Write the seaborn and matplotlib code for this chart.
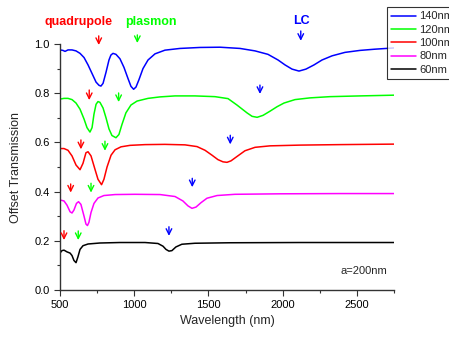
import pandas as pd
import numpy as np
import seaborn as sns
from matplotlib import pyplot as plt
from matplotlib.ticker import MultipleLocator, FormatStrFormatter

# wavelength (nm) / offset transmission
wl_140 = [500, 520, 534, 554, 581, 608, 635, 662, 689, 716, 743, 763, 776, 790, 810, 830, 843, 857, 877, 904,
          931, 958, 978, 996, 1012, 1032, 1059, 1093, 1140, 1207, 1308, 1443, 1578, 1713, 1814, 1901, 1969, 2016,
          2063, 2110, 2157, 2211, 2265, 2333, 2420, 2521, 2622, 2750]
tr_140 = [0.976, 0.974, 0.970, 0.976, 0.976, 0.972, 0.962, 0.945, 0.915, 0.880, 0.845, 0.832, 0.829, 0.840, 0.885,
          0.935, 0.955, 0.962, 0.958, 0.940, 0.905, 0.860, 0.828, 0.816, 0.825, 0.855, 0.900, 0.935, 0.960, 0.975,
          0.982, 0.986, 0.987, 0.982, 0.972, 0.958, 0.935, 0.915, 0.898, 0.890, 0.898, 0.915, 0.935, 0.952, 0.966,
          0.974, 0.979, 0.984]

wl_120 = [500, 527, 554, 581, 608, 635, 662, 682, 702, 716, 729, 743, 756, 769, 790, 810, 830, 850, 877, 897,
          917, 944, 978, 1019, 1093, 1174, 1275, 1409, 1544, 1632, 1692, 1760, 1794, 1828, 1868, 1915, 1962, 2009,
          2083, 2184, 2319, 2521, 2750]
tr_120 = [0.776, 0.779, 0.779, 0.774, 0.760, 0.735, 0.695, 0.660, 0.642, 0.660, 0.715, 0.755, 0.766, 0.763, 0.740,
          0.700, 0.655, 0.628, 0.619, 0.632, 0.672, 0.720, 0.752, 0.768, 0.779, 0.785, 0.789, 0.789, 0.786, 0.778,
          0.752, 0.720, 0.706, 0.702, 0.710, 0.727, 0.745, 0.760, 0.774, 0.781, 0.786, 0.789, 0.792]

wl_100 = [500, 527, 554, 581, 608, 635, 655, 675, 689, 709, 736, 756, 780, 796, 817, 844, 871, 911, 972, 1073,
          1207, 1342, 1423, 1477, 1524, 1564, 1598, 1625, 1652, 1693, 1746, 1814, 1915, 2117, 2386, 2750]
tr_100 = [0.575, 0.575, 0.568, 0.545, 0.508, 0.489, 0.515, 0.558, 0.562, 0.545, 0.490, 0.450, 0.428, 0.450, 0.500,
          0.548, 0.570, 0.582, 0.588, 0.591, 0.592, 0.590, 0.583, 0.568, 0.548, 0.530, 0.521, 0.519, 0.525, 0.543,
          0.566, 0.580, 0.586, 0.589, 0.591, 0.593]

wl_80 = [500, 527, 547, 568, 581, 594, 611, 625, 641, 662, 675, 685, 695, 709, 729, 756, 796, 871, 1005, 1174,
         1275, 1328, 1362, 1389, 1416, 1450, 1490, 1558, 1679, 1982, 2386, 2750]
tr_80 = [0.366, 0.362, 0.345, 0.318, 0.313, 0.325, 0.352, 0.359, 0.348, 0.300, 0.268, 0.262, 0.275, 0.315, 0.352,
         0.374, 0.384, 0.388, 0.389, 0.388, 0.380, 0.362, 0.342, 0.332, 0.337, 0.355, 0.373, 0.384, 0.389, 0.391,
         0.392, 0.392]

wl_60 = [500, 513, 527, 547, 568, 581, 594, 608, 621, 635, 655, 689, 769, 904, 1073, 1160, 1194, 1214, 1234, 1254,
         1281, 1321, 1409, 1645, 2117, 2750]
tr_60 = [0.150, 0.160, 0.162, 0.155, 0.150, 0.140, 0.120, 0.111, 0.135, 0.165, 0.180, 0.187, 0.191, 0.193, 0.193,
         0.189, 0.178, 0.165, 0.158, 0.160, 0.175, 0.186, 0.190, 0.192, 0.193, 0.193]

sizes = ['140nm', '120nm', '100nm', '80nm', '60nm']
colors = ['#0000ff', '#00ff00', '#ff0000', '#ff00ff', '#000000']

# arrow marks per curve: (wavelength, arrow top, arrow bottom)
arrows_quad = [(761, 1.033, 0.996), (697, 0.813, 0.772), (641, 0.610, 0.572), (572, 0.431, 0.396), (527, 0.241, 0.203)]
arrows_plas = [(1021, 1.037, 1.004), (895, 0.801, 0.764), (803, 0.605, 0.566), (709, 0.434, 0.396), (623, 0.240, 0.203)]
arrows_lc = [(2122, 1.053, 1.013), (1847, 0.833, 0.797), (1647, 0.629, 0.592), (1391, 0.454, 0.418), (1234, 0.257, 0.220)]

frames = []
for name, wl, tr in zip(sizes, [wl_140, wl_120, wl_100, wl_80, wl_60], [tr_140, tr_120, tr_100, tr_80, tr_60]):
    frames.append(pd.DataFrame({'wl': wl, 'tr': tr, 'size': name}))
df = pd.concat(frames, ignore_index=True)

sns.set_style('ticks')
plt.rcParams['font.family'] = ['Liberation Sans', 'DejaVu Sans']

fig = plt.figure(figsize=(4.49, 3.37), dpi=100)
ax = fig.add_axes([0.1336, 0.1395, 0.7439, 0.7299])

sns.lineplot(data=df, x='wl', y='tr', hue='size', hue_order=sizes, palette=colors,
             linewidth=1.1, estimator=None, sort=False, ax=ax)

ax.set_xlim(500, 2750)
ax.set_ylim(0, 1.0)
ax.xaxis.set_major_locator(MultipleLocator(500))
ax.xaxis.set_minor_locator(MultipleLocator(250))
ax.yaxis.set_major_locator(MultipleLocator(0.2))
ax.yaxis.set_minor_locator(MultipleLocator(0.1))
ax.yaxis.set_major_formatter(FormatStrFormatter('%.1f'))
ax.tick_params(which='major', direction='out', length=4, width=0.8, labelsize=8, colors='#333333', labelcolor='black')
ax.tick_params(which='minor', direction='out', length=2.5, width=0.8, colors='#333333')
for s in ['left', 'bottom']:
    ax.spines[s].set_color('#333333')
    ax.spines[s].set_linewidth(1.0)
sns.despine(ax=ax)

ax.set_xlabel('Wavelength (nm)', fontsize=9, labelpad=3)
ax.set_ylabel('Offset Transmission', fontsize=9, labelpad=9)

for group, col in [(arrows_quad, '#ff0000'), (arrows_plas, '#00ff00'), (arrows_lc, '#0000ff')]:
    for x, top, bot in group:
        ax.annotate('', xy=(x, bot), xytext=(x, top), annotation_clip=False,
                    arrowprops=dict(arrowstyle='->', color=col, lw=1.0, shrinkA=0, shrinkB=0,
                                    mutation_scale=10))

ax.text(628, 1.09, 'quadrupole', color='#ff0000', fontsize=9, fontweight='bold', ha='center', va='center')
ax.text(1113, 1.09, 'plasmon', color='#00ff00', fontsize=9, fontweight='bold', ha='center', va='center')
ax.text(2124, 1.092, 'LC', color='#0000ff', fontsize=9, fontweight='bold', ha='center', va='center')
ax.text(2548, 0.078, 'a=200nm', fontsize=8, ha='center', va='center')

handles, labels = ax.get_legend_handles_labels()
leg = ax.legend(handles, labels, loc='upper left', bbox_to_anchor=(387 / 449, 1 - 7 / 337),
                bbox_transform=fig.transFigure, fontsize=8, frameon=True, fancybox=False,
                handlelength=2.2, handletextpad=0.3, labelspacing=0.3, borderpad=0.4,
                borderaxespad=0)
leg.get_frame().set_edgecolor('black')
leg.get_frame().set_linewidth(0.8)

plt.savefig('out.png', dpi=100)
